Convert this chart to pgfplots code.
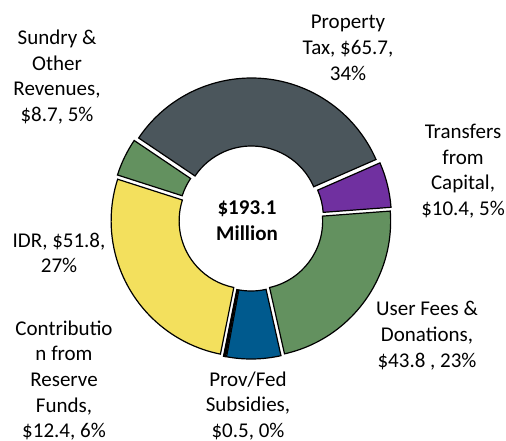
\documentclass[border=0pt]{standalone}
\usepackage{fontspec}
\setmainfont{Carlito}
\usepackage{pgfplots}
\usepackage{pgfplotstable}
\pgfplotsset{compat=1.18}
\definecolor{cGrey}{HTML}{4B565C}
\definecolor{cPurple}{HTML}{7030A0}
\definecolor{cGreen}{HTML}{63915F}
\definecolor{cBlue}{HTML}{005A8E}
\definecolor{cYellow}{HTML}{F3E05D}
\newcommand\lbl{\fontsize{10.5}{12.85}\selectfont}
\pgfplotstableread[col sep=comma]{
name,value,color
PropertyTax,65.7,cGrey
Transfers,10.4,cPurple
UserFees,43.8,cGreen
Contribution,12.4,cBlue
ProvFed,0.5,black
IDR,51.8,cYellow
Sundry,8.7,cGreen
}\slices
\begin{document}
\begin{tikzpicture}
\useasboundingbox (0,0) rectangle (253pt,220pt);
\clip (0,0) rectangle (253pt,220pt);
\begin{axis}[x=0.5pt,y=0.5pt,xmin=0,xmax=506,ymin=0,ymax=440,
  hide axis,clip=false,disabledatascaling,at={(0,0)},anchor=south west]
\pgfplotsextra{%
  \gdef\total{0}%
  \foreach \i in {0,...,6}{%
    \pgfplotstablegetelem{\i}{value}\of\slices
    \pgfmathsetmacro\tmpsum{\total+\pgfplotsretval}\xdef\total{\tmpsum}}%
  \gdef\acur{146}%
  \foreach \i in {0,...,6}{%
    \pgfplotstablegetelem{\i}{value}\of\slices \let\slv\pgfplotsretval
    \pgfplotstablegetelem{\i}{color}\of\slices \let\slcol\pgfplotsretval
    \pgfmathsetmacro\angA{\acur}%
    \pgfmathsetmacro\angB{\acur-\slv/\total*360}%
    \pgfmathsetmacro\angM{(\angA+\angB)/2}%
    \pgfmathsetmacro\ox{251+4.5*cos(\angM)}%
    \pgfmathsetmacro\oy{221.5+4.5*sin(\angM)}%
    \begin{scope}[shift={(axis cs:\ox,\oy)}]
    \filldraw[fill=\slcol,draw=black,line width=0.6pt]
      (\angA:68pt) arc[start angle=\angA,end angle=\angB,radius=68pt]
      -- (\angB:34pt) arc[start angle=\angB,end angle=\angA,radius=34pt] -- cycle;
    \end{scope}
    \xdef\acur{\angB}%
  }%
}
\node[align=center,inner sep=0,font=\lbl] at (axis cs:348,392) {Property\\Tax, \$65.7,\\34\%};
\node[align=center,inner sep=0,font=\lbl] at (axis cs:57,363) {Sundry \&\\Other\\Revenues,\\\$8.7, 5\%};
\node[align=center,inner sep=0,font=\lbl] at (axis cs:463,269) {Transfers\\from\\Capital,\\\$10.4, 5\%};
\node[align=center,inner sep=0,font=\lbl] at (axis cs:59,187) {IDR, \$51.8,\\27\%};
\node[align=center,inner sep=0,font=\lbl] at (axis cs:427,104.3) {User Fees \&\\Donations,\\\$43.8 , 23\%};
\node[align=center,inner sep=0,font=\lbl] at (axis cs:64,59.5) {Contributio\\n from\\Reserve\\Funds,\\\$12.4, 6\%};
\node[align=center,inner sep=0,font=\lbl] at (axis cs:248,34) {Prov/Fed\\Subsidies,\\\$0.5, 0\%};
\node[align=center,inner sep=0,font=\lbl\bfseries] at (axis cs:247,219) {\$193.1\\Million};
\end{axis}
\end{tikzpicture}
\end{document}
